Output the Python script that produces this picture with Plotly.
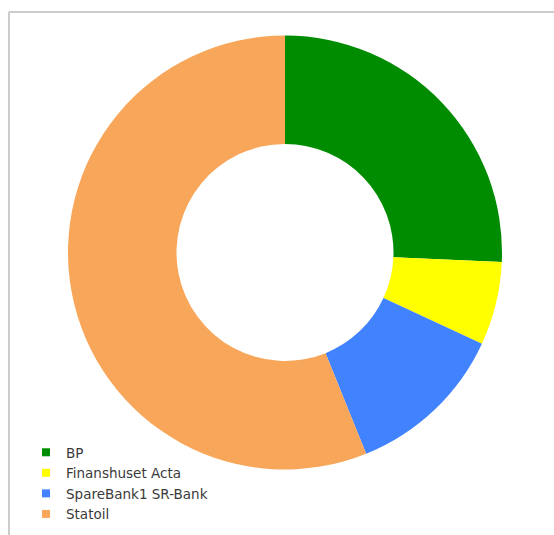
import plotly.graph_objects as go

W, H = 554, 535

labels = ["BP", "Finanshuset Acta", "SpareBank1 SR-Bank", "Statoil"]
values = [25.7, 6.2, 12.0, 56.1]
colors = ["#008C00", "#FFFF00", "#4182FF", "#F8A65A"]

fig = go.Figure()

fig.add_trace(go.Pie(
    labels=labels, values=values, sort=False, direction="clockwise", rotation=0,
    hole=0.5, textinfo="none", showlegend=False,
    marker=dict(colors=colors, line=dict(width=0)),
    domain=dict(x=[68 / W, 502 / W], y=[(H - 470) / H, (H - 35) / H]),
))

for lab, col in zip(labels, colors):
    fig.add_trace(go.Scatter(
        x=[None], y=[None], mode="markers", name=lab,
        marker=dict(symbol="square", size=8, color=col),
    ))

fig.update_layout(
    width=W, height=H,
    margin=dict(l=0, r=0, t=0, b=0),
    paper_bgcolor="white", plot_bgcolor="white",
    xaxis=dict(visible=False), yaxis=dict(visible=False),
    legend=dict(x=26 / W, y=(H - 437) / H, xanchor="left", yanchor="top",
                font=dict(family="DejaVu Sans", size=13.5, color="#3A3A3A"),
                bgcolor="rgba(0,0,0,0)", tracegroupgap=0),
    shapes=[
        dict(type="line", xref="paper", yref="paper", x0=9 / W, x1=1, y0=(H - 12) / H, y1=(H - 12) / H,
             line=dict(color="#CCCCCC", width=2)),
        dict(type="line", xref="paper", yref="paper", x0=9 / W, x1=9 / W, y0=0, y1=(H - 12) / H,
             line=dict(color="#CCCCCC", width=2)),
    ],
)

fig.write_html("out.html")
